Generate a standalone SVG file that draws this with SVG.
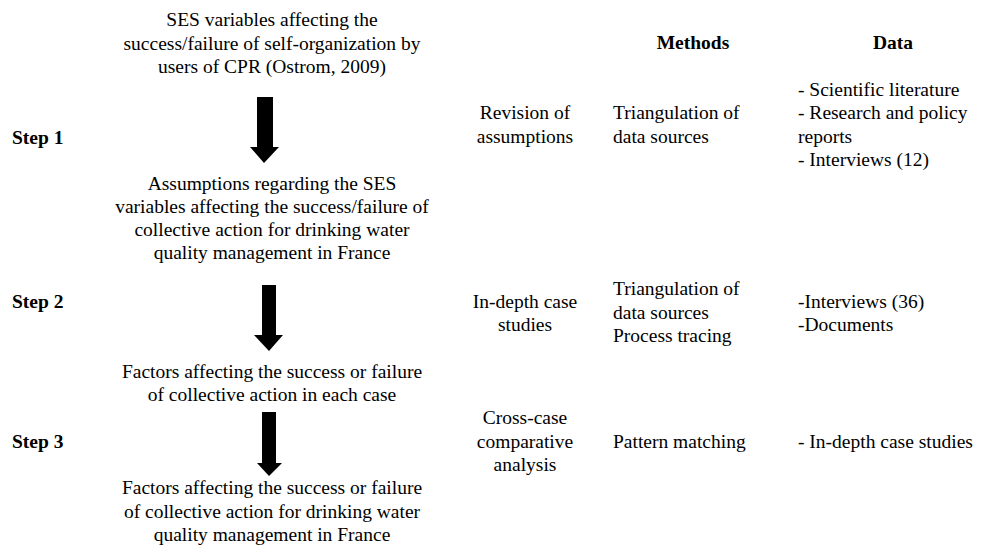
<svg xmlns="http://www.w3.org/2000/svg" width="996" height="547" viewBox="0 0 996 547">
<style>
text{font-family:"Liberation Serif","Times New Roman",serif;font-size:19.5px;fill:#000}
.c{text-anchor:middle}
.b{font-weight:bold}
.arrow{fill:#000}
</style>
<rect width="996" height="547" fill="#fff"/>
<g id="node-ses">
<text class="c" x="272" y="26">SES variables affecting the</text>
<text class="c" x="272" y="49.5">success/failure of self-organization by</text>
<text class="c" x="272" y="73">users of CPR (Ostrom, 2009)</text>
</g>
<g id="node-assumptions">
<text class="c" x="272" y="190">Assumptions regarding the SES</text>
<text class="c" x="272" y="213">variables affecting the success/failure of</text>
<text class="c" x="272" y="236">collective action for drinking water</text>
<text class="c" x="272" y="259">quality management in France</text>
</g>
<g id="node-factors-case">
<text class="c" x="272" y="378">Factors affecting the success or failure</text>
<text class="c" x="272" y="401">of collective action in each case</text>
</g>
<g id="node-factors-france">
<text class="c" x="272" y="494">Factors affecting the success or failure</text>
<text class="c" x="272" y="518">of collective action for drinking water</text>
<text class="c" x="272" y="541">quality management in France</text>
</g>
<g id="steps">
<text class="b" x="12" y="144">Step 1</text>
<text class="b" x="12" y="308">Step 2</text>
<text class="b" x="12" y="448">Step 3</text>
</g>
<g id="headers">
<text class="b c" x="693" y="49">Methods</text>
<text class="b c" x="893" y="49">Data</text>
</g>
<g id="row1">
<text class="c" x="525" y="119">Revision of</text>
<text class="c" x="525" y="143">assumptions</text>
<text x="613" y="119">Triangulation of</text>
<text x="613" y="143">data sources</text>
<text x="798" y="96">- Scientific literature</text>
<text x="798" y="119">- Research and policy</text>
<text x="798" y="143">reports</text>
<text x="798" y="166">- Interviews (12)</text>
</g>
<g id="row2">
<text class="c" x="525" y="308">In-depth case</text>
<text class="c" x="525" y="331">studies</text>
<text x="613" y="295">Triangulation of</text>
<text x="613" y="319">data sources</text>
<text x="613" y="342">Process tracing</text>
<text x="798" y="308">-Interviews (36)</text>
<text x="798" y="331">-Documents</text>
</g>
<g id="row3">
<text class="c" x="525" y="424">Cross-case</text>
<text class="c" x="525" y="448">comparative</text>
<text class="c" x="525" y="471">analysis</text>
<text x="613" y="448">Pattern matching</text>
<text x="798" y="448">- In-depth case studies</text>
</g>
<g id="connectors">
<polygon class="arrow" points="257,97 273,97 273,147 279,147 264,163 250,147 257,147"/>
<polygon class="arrow" points="262,285 276,285 276,335 283,335 269,351 254,335 262,335"/>
<polygon class="arrow" points="262,412 276,412 276,463 282,463 269,476 257,463 262,463"/>
</g>
</svg>
